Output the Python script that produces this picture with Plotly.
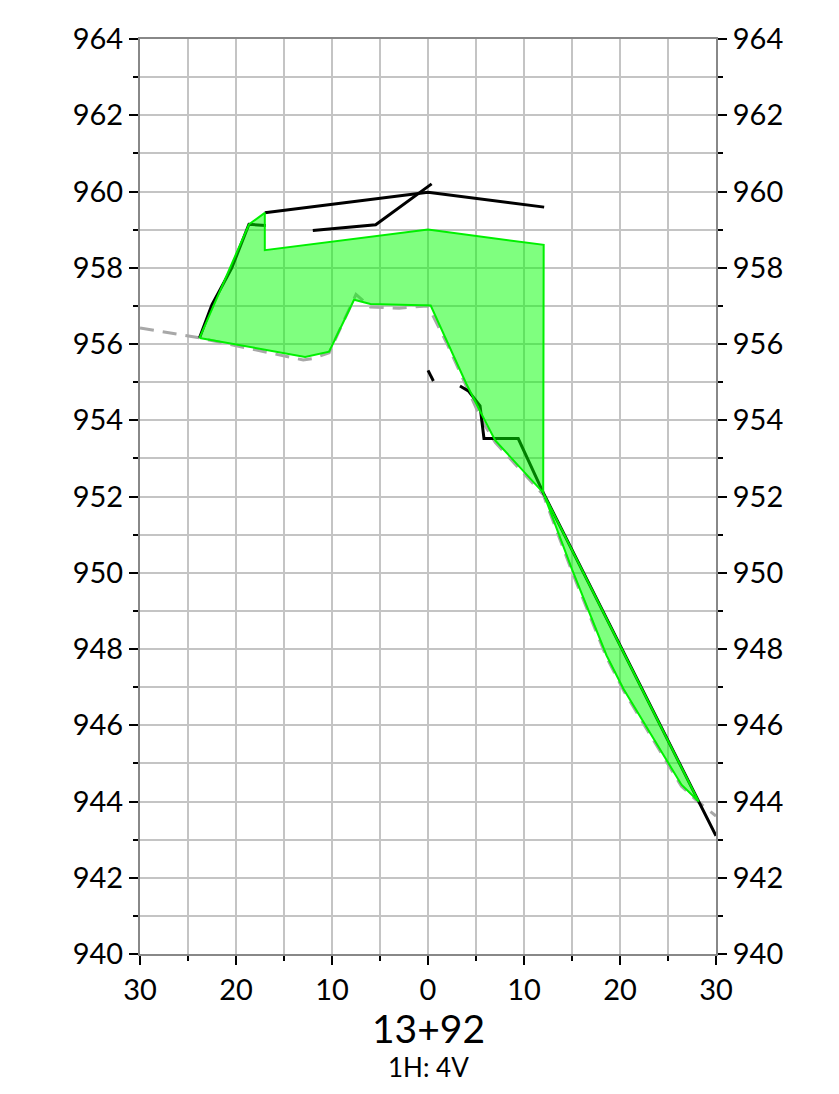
import plotly.graph_objects as go

# Existing ground (gray dashed)
ground_x = [-30, -23.8, -13.0, -12.0, -10.3, -7.5, -6.0, -3.0, 0.0, 2.0, 5.6, 7.0, 12.0, 15.0, 18.6, 20.4, 23.5, 26.4, 28.2, 30]
ground_y = [956.42, 956.16, 955.58, 955.62, 955.77, 957.3, 956.97, 956.94, 957.0, 956.0, 954.0, 953.42, 952.05, 950.03, 947.78, 946.9, 945.6, 944.4, 943.98, 943.62]

# Fill bottom edge (green, along ground)
fillbot_x = [-23.8, -12.8, -10.3, -7.7, -6.0, 0.28, 4.0, 5.4, 7.0, 12.0, 15.0, 18.6, 20.35, 23.5, 26.4, 28.2]
fillbot_y = [956.16, 955.66, 955.8, 957.16, 957.05, 957.01, 954.95, 954.25, 953.47, 952.1, 950.09, 947.83, 946.96, 945.66, 944.44, 944.0]

# Proposed template top (green outline)
design_x = [-23.8, -18.65, -17.0, -17.0, 0.0, 12.05, 12.0, 28.2]
design_y = [956.16, 959.14, 959.44, 958.46, 959.0, 958.6, 952.1, 944.0]

# Black lines
slope_x = [-23.8, -22.5, -20.45, -18.65, -16.9]
slope_y = [956.16, 957.03, 957.99, 959.14, 959.11]
top_x = [-17.0, 0.0, 12.1]
top_y = [959.44, 959.98, 959.59]
mid_x = [-12.0, -5.45, 0.38]
mid_y = [958.98, 959.13, 960.2]
right_x = [0.0, 0.56, None, 3.33, 4.2, 5.42, 5.6, 5.83, 9.4, 12.0, 30]
right_y = [955.31, 955.03, None, 954.9, 954.77, 954.38, 953.99, 953.52, 953.52, 952.1, 943.1]

x_ticks = [-30, -20, -10, 0, 10, 20, 30]
x_labels = ["30", "20", "10", "0", "10", "20", "30"]
y_ticks = list(range(940, 965, 2))

# fill region: design top then ground bottom (reversed)
poly_x = design_x + fillbot_x[::-1]
poly_y = design_y + fillbot_y[::-1]

fig = go.Figure()
fig.add_trace(go.Scatter(x=ground_x, y=ground_y, mode="lines",
                         line=dict(color="#a8a8a8", width=3, dash="14px,9px"),
                         hoverinfo="skip"))
for xs, ys in [(slope_x, slope_y), (top_x, top_y), (mid_x, mid_y), (right_x, right_y)]:
    fig.add_trace(go.Scatter(x=xs, y=ys, mode="lines",
                             line=dict(color="black", width=3), hoverinfo="skip"))
fig.add_trace(go.Scatter(x=poly_x, y=poly_y, mode="lines", fill="toself",
                         fillcolor="rgba(0,255,0,0.5)",
                         line=dict(color="#00f000", width=2), hoverinfo="skip"))
# invisible trace for right axis
fig.add_trace(go.Scatter(x=[0], y=[950], yaxis="y2", mode="markers",
                         marker=dict(opacity=0), hoverinfo="skip"))

font = dict(family="Lato, Liberation Sans, sans-serif", size=29, color="black")
common_y = dict(range=[940, 964], tickvals=y_ticks, ticks="outside", ticklen=9,
                tickwidth=2, tickcolor="black", showline=True, linecolor="#888888",
                linewidth=2, tickfont=font, zeroline=False,
                minor=dict(dtick=1, tick0=940, ticks="outside", ticklen=5,
                           tickcolor="black", tickwidth=2, showgrid=True,
                           gridcolor="#c4c4c4", gridwidth=2))
fig.update_layout(
    width=823, height=1078,
    margin=dict(l=132, r=115, t=24, b=132),
    plot_bgcolor="white", paper_bgcolor="white",
    showlegend=False,
    xaxis=dict(range=[-30, 30], tickvals=x_ticks, ticktext=x_labels,
               ticks="outside", ticklen=9, tickwidth=2, tickcolor="black",
               showline=True, linecolor="#888888", linewidth=2, mirror=True,
               showgrid=True, gridcolor="#c4c4c4", gridwidth=2, zeroline=False,
               tickfont=font,
               minor=dict(dtick=5, tick0=-30, ticks="outside", ticklen=5,
                          tickcolor="black", tickwidth=2, showgrid=True,
                          gridcolor="#c4c4c4", gridwidth=2)),
    yaxis=dict(side="left", showgrid=True, gridcolor="#c4c4c4", gridwidth=2,
               **common_y),
    yaxis2=dict(side="right", overlaying="y", showgrid=False, **common_y),
    annotations=[
        dict(text="13+92", x=0.5, y=-0.0813, xref="paper", yref="paper",
             showarrow=False, yanchor="middle",
             font=dict(family="Lato, Liberation Sans, sans-serif", size=39, color="black")),
        dict(text="1H: 4V", x=0.5, y=-0.1236, xref="paper", yref="paper",
             showarrow=False, yanchor="middle",
             font=dict(family="Lato, Liberation Sans, sans-serif", size=26, color="black")),
    ],
)
fig.write_html("out.html")
